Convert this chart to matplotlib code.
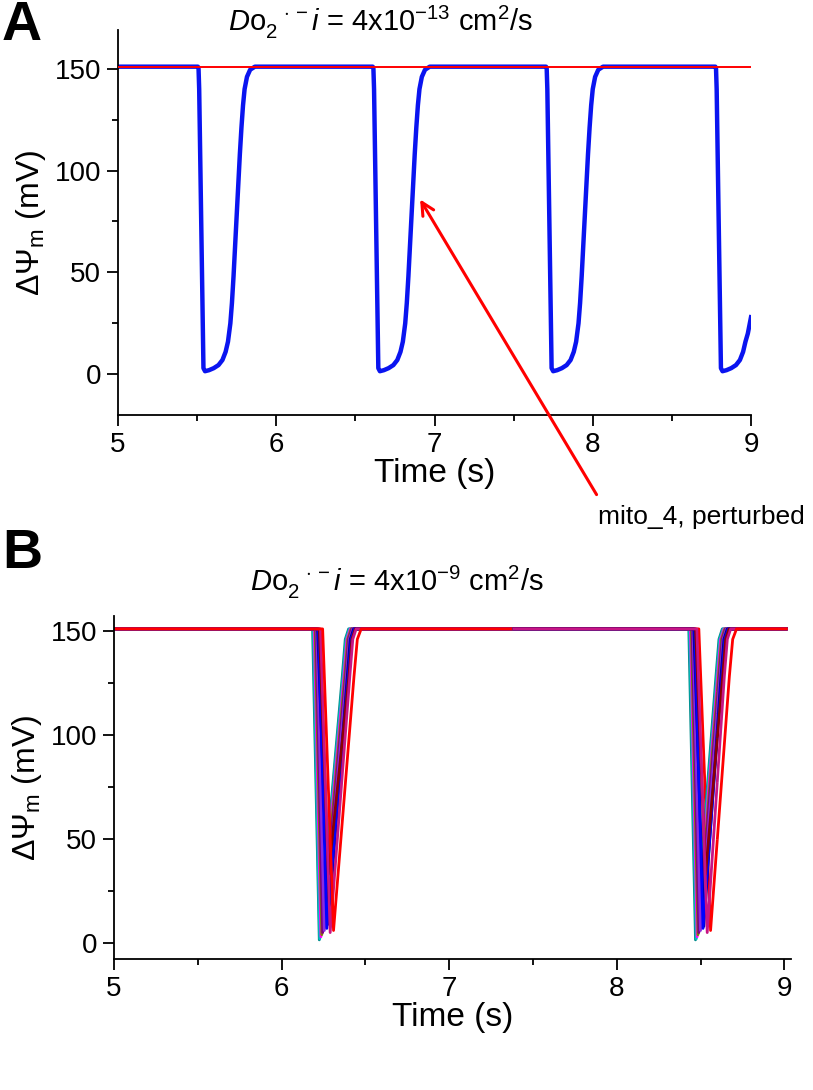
import matplotlib
matplotlib.use("Agg")
import matplotlib.pyplot as plt
from matplotlib.ticker import MultipleLocator
import numpy as np

plt.rcParams['font.family'] = ['Liberation Sans', 'DejaVu Sans']
plt.rcParams['mathtext.fontset'] = 'custom'
plt.rcParams['mathtext.rm'] = 'Liberation Sans'
plt.rcParams['mathtext.it'] = 'Liberation Sans:italic'
plt.rcParams['mathtext.bf'] = 'Liberation Sans:bold'

# ---------------- Panel A data ----------------
a_time = [5.000,
          5.505, 5.509, 5.513, 5.540, 5.550, 5.575, 5.605, 5.635, 5.660, 5.680, 5.695, 5.710,
          5.720, 5.730, 5.740, 5.750, 5.760, 5.770, 5.780, 5.790, 5.800, 5.815, 5.835, 5.865,
          6.610, 6.614, 6.618, 6.645, 6.655, 6.680, 6.710, 6.740, 6.765, 6.785, 6.800, 6.815,
          6.825, 6.835, 6.845, 6.855, 6.865, 6.875, 6.885, 6.895, 6.905, 6.920, 6.940, 6.970,
          7.705, 7.709, 7.713, 7.740, 7.750, 7.775, 7.805, 7.835, 7.860, 7.880, 7.895, 7.910,
          7.920, 7.930, 7.940, 7.950, 7.960, 7.970, 7.980, 7.990, 8.000, 8.015, 8.035, 8.065,
          8.775, 8.779, 8.783, 8.810, 8.820, 8.845, 8.875, 8.905, 8.930, 8.950, 8.965, 8.980,
          8.990, 9.000]
a_psi = [151,
         151, 150, 140, 3, 1.5, 2, 3, 4.5, 7, 11, 16, 25,
         35, 48, 63, 78, 93, 108, 121, 132, 140, 146, 149.5, 151,
         151, 150, 140, 3, 1.5, 2, 3, 4.5, 7, 11, 16, 25,
         35, 48, 63, 78, 93, 108, 121, 132, 140, 146, 149.5, 151,
         151, 150, 140, 3, 1.5, 2, 3, 4.5, 7, 11, 16, 25,
         35, 48, 63, 78, 93, 108, 121, 132, 140, 146, 149.5, 151,
         151, 150, 140, 3, 1.5, 2, 3, 4.5, 7, 11, 16, 20,
         24, 28]
a_ref_time = [5.0, 9.0]
a_ref_psi = [151, 151]

# ---------------- Panel B data ----------------
b_colors = ['#008B8B', '#00BFBF', '#FF00FF', '#808000', '#800080', '#8A2BE2',
            '#000080', '#0000FF', '#8B0000', '#C71585', '#FF0000']
# spike 1 key points
b_drop1 = [6.185, 6.190, 6.195, 6.200, 6.205, 6.210, 6.215, 6.220, 6.225, 6.232, 6.245]
b_bot1_t = [6.225, 6.228, 6.235, 6.240, 6.245, 6.255, 6.280, 6.270, 6.280, 6.290, 6.310]
b_bot1_v = [1.5, 2, 3, 4, 5, 6, 9, 7, 33, 5, 6]
b_knee1 = [6.362, 6.367, 6.372, 6.377, 6.382, 6.387, 6.392, 6.397, 6.402, 6.407, 6.432]
b_shld1 = [6.380, 6.385, 6.390, 6.395, 6.400, 6.405, 6.410, 6.415, 6.420, 6.425, 6.452]
b_top1 = [6.400, 6.405, 6.410, 6.415, 6.420, 6.425, 6.430, 6.435, 6.440, 6.445, 6.475]
# spike 2 key points
b_drop2 = [8.430, 8.435, 8.440, 8.445, 8.450, 8.455, 8.460, 8.465, 8.470, 8.478, 8.490]
b_bot2_t = [8.470, 8.475, 8.480, 8.485, 8.490, 8.500, 8.520, 8.515, 8.530, 8.540, 8.560]
b_bot2_v = [1.5, 2, 3, 4, 5, 6, 8, 7, 33, 5, 6]
b_knee2 = [8.592, 8.597, 8.602, 8.607, 8.612, 8.617, 8.622, 8.627, 8.632, 8.642, 8.672]
b_shld2 = [8.610, 8.615, 8.620, 8.625, 8.630, 8.635, 8.640, 8.645, 8.650, 8.660, 8.692]
b_top2 = [8.630, 8.635, 8.640, 8.645, 8.650, 8.655, 8.660, 8.665, 8.670, 8.680, 8.715]
b_rest = 151
b_knee_v = 128
b_shld_v = 146
b_start, b_end = 5.0, 9.02
b_split = [7.38, 8.60]   # where drawing order changes

fig = plt.figure(figsize=(8.13, 10.90), dpi=100)

def style_axes(ax):
    for s in ['top', 'right']:
        ax.spines[s].set_visible(False)
    for s in ['left', 'bottom']:
        ax.spines[s].set_linewidth(1.3)
    ax.tick_params(which='major', direction='out', length=8, width=1.3, labelsize=20, pad=4)
    ax.tick_params(which='minor', direction='out', length=4.5, width=1.3)
    ax.xaxis.set_major_locator(MultipleLocator(1))
    ax.xaxis.set_minor_locator(MultipleLocator(0.5))
    ax.yaxis.set_major_locator(MultipleLocator(50))
    ax.yaxis.set_minor_locator(MultipleLocator(25))

title_A = r'$\mathit{D}\mathrm{o}_{2}^{\;\;\;\cdot-}\mathit{i}$ = 4x10$^{-13}$ cm$^{2}$/s'
title_B = r'$\mathit{D}\mathrm{o}_{2}^{\;\;\;\cdot-}\mathit{i}$ = 4x10$^{-9}$ cm$^{2}$/s'

# ---------- Panel A ----------
axA = fig.add_axes([118/813, 1-415/1090, (751-118)/813, (415-30)/1090])
axA.plot(a_time, a_psi, color='#0A14F0', lw=3.2, solid_joinstyle='round', zorder=2)
axA.plot(a_ref_time, a_ref_psi, color='#FF0000', lw=1.4, zorder=3)
axA.set_xlim(5, 9)
axA.set_ylim(-20, 169)
style_axes(axA)
axA.set_xlabel('Time (s)', fontsize=24, labelpad=0)
axA.set_ylabel(r'$\Delta\Psi_\mathrm{m}$ (mV)', fontsize=23, labelpad=5)

axA.annotate('', xy=(6.9, 87), xycoords='data',
             xytext=(598/813, 1-497/1090), textcoords='figure fraction',
             arrowprops=dict(arrowstyle='->,head_length=0.9,head_width=0.45',
                             color='#FF0000', lw=2.2),
             annotation_clip=False)
fig.text(598/813, 1-517/1090, 'mito_4, perturbed', fontsize=19, va='center', ha='left')

fig.text(228/813, 1-4/1090, title_A, fontsize=21, va='top', ha='left')
fig.text(2/813, 1-0/1090, 'A', fontsize=40, fontweight='bold', va='top', ha='left')

# ---------- Panel B ----------
axB = fig.add_axes([114/813, 1-959/1090, (791-114)/813, (959-616)/1090])

def trace(i):
    t = [b_start, b_drop1[i], b_bot1_t[i], b_knee1[i], b_shld1[i], b_top1[i],
         b_drop2[i], b_bot2_t[i], b_knee2[i], b_shld2[i], b_top2[i], b_end]
    v = [b_rest, b_rest, b_bot1_v[i], b_knee_v, b_shld_v, b_rest,
         b_rest, b_bot2_v[i], b_knee_v, b_shld_v, b_rest, b_rest]
    return np.array(t), np.array(v)

def clip(t, v, lo, hi):
    tt = [lo] + [x for x in t if lo < x < hi] + [hi]
    return tt, np.interp(tt, t, v)

n = len(b_colors)
segments = [(b_start, b_split[0], False), (b_split[0], b_split[1], True), (b_split[1], b_end, False)]
z = 2
for lo, hi, red_first in segments:
    order = list(range(n))
    if red_first:
        order = [n-1] + list(range(n-1))
    for i in order:
        t, v = trace(i)
        tt, vv = clip(t, v, lo, hi)
        axB.plot(tt, vv, color=b_colors[i], lw=2.0, solid_joinstyle='round',
                 solid_capstyle='butt', zorder=z)
        z += 0.01

axB.set_xlim(5, 9.04)
axB.set_ylim(-7.7, 157.2)
style_axes(axB)
axB.set_xlabel('Time (s)', fontsize=24, labelpad=0)
axB.set_ylabel(r'$\Delta\Psi_\mathrm{m}$ (mV)', fontsize=23, labelpad=5)

fig.text(250/813, 1-564/1090, title_B, fontsize=21, va='top', ha='left')
fig.text(2/813, 1-528/1090, 'B', fontsize=40, fontweight='bold', va='top', ha='left')

fig.savefig('out.png', dpi=100)
